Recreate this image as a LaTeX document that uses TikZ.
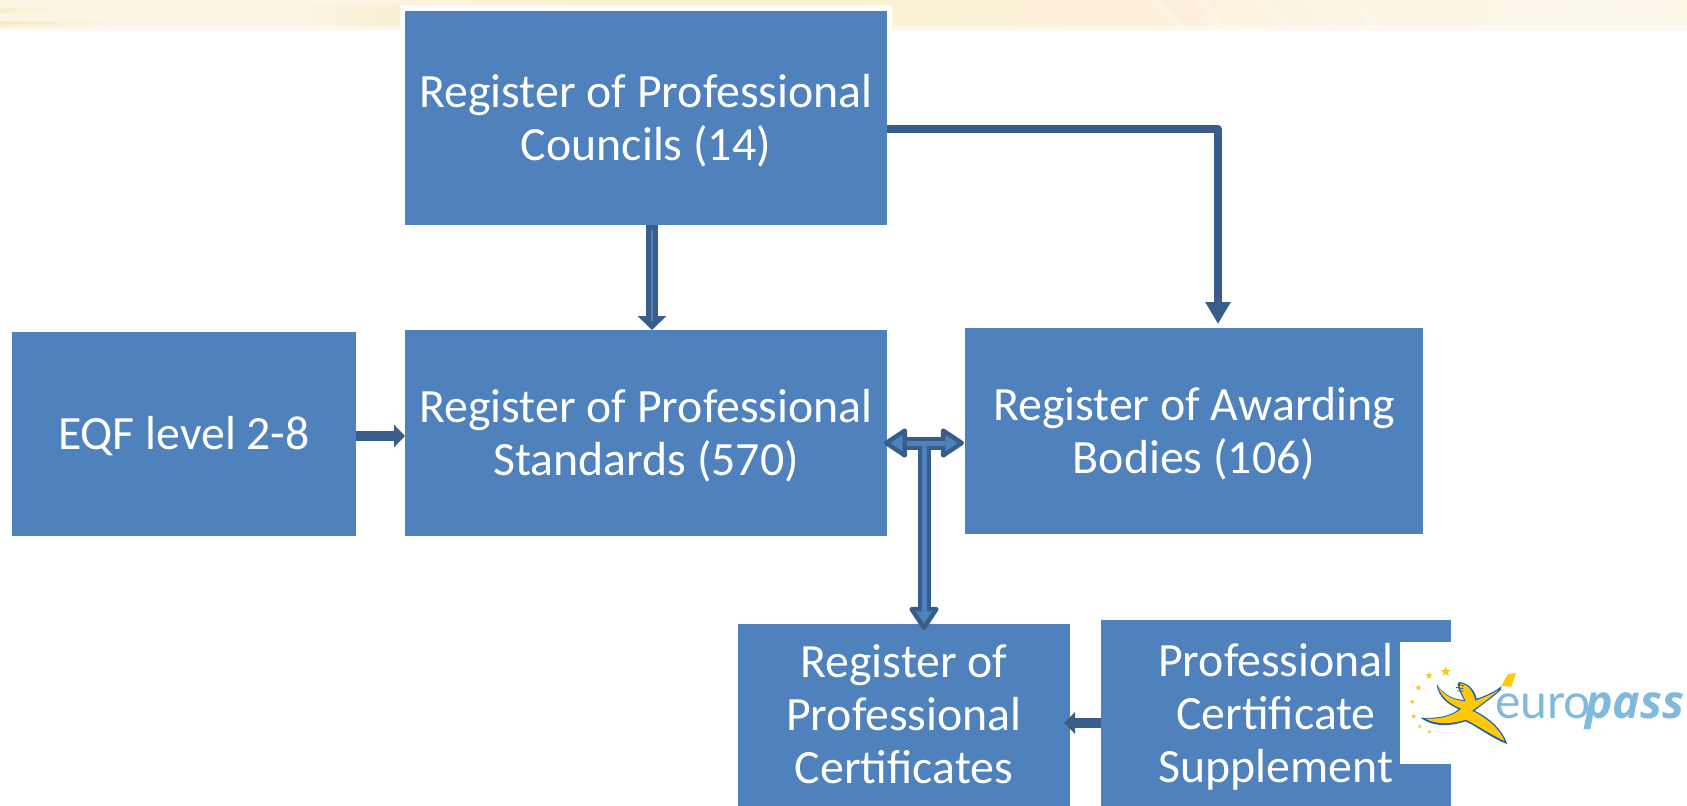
\documentclass[tikz,border=0pt]{standalone}
\usepackage{fontspec}
\setmainfont{Carlito}
\newfontfamily\lightfont{Lato}
\newfontfamily\passfont{Open Sans}
\usetikzlibrary{arrows.meta,shapes.geometric}
\newcommand\topgap[1]{\rule{0pt}{#1pt}}
\definecolor{boxblue}{HTML}{4F81BD}
\definecolor{linkblue}{HTML}{385D8A}
\definecolor{logoblue}{HTML}{7FB9DE}
\definecolor{logoyellow}{HTML}{FFC80A}
\definecolor{logoedge}{HTML}{1F5FA8}
\definecolor{bandA}{HTML}{FAF0C6}
\definecolor{bandB}{HTML}{FCF3E6}
\definecolor{bandC}{HTML}{FBF5E6}
\definecolor{bandD}{HTML}{FBF1D2}
\definecolor{bandE}{HTML}{FCF0DC}
\definecolor{bandF}{HTML}{FBF6EA}
\definecolor{bandG}{HTML}{FBF2DC}
\definecolor{streakA}{HTML}{F7ECB4}
\definecolor{streakB}{HTML}{F9EBCB}
\definecolor{fadeA}{HTML}{FCF6E8}
\pgfdeclarehorizontalshading{topband}{100bp}{
 color(0bp)=(bandA); color(3bp)=(bandA); color(4bp)=(bandB); color(12bp)=(bandB);
 color(20bp)=(bandC); color(34bp)=(bandC); color(42bp)=(bandD); color(50bp)=(bandD);
 color(60bp)=(bandE); color(66bp)=(bandC); color(72bp)=(bandF); color(78bp)=(bandC);
 color(86bp)=(bandE); color(95bp)=(bandG); color(100bp)=(bandA)}
\tikzset{
 x=1pt,y=-1pt,
 regbox/.style={rectangle,fill=boxblue,text=white,inner sep=0pt,outer sep=0pt,align=center,
   font=\fontsize{47.8}{53}\selectfont},
 dkshaft/.style={draw=linkblue,line cap=butt},
 ltcore/.style={draw=boxblue,line width=5pt,line cap=butt},
 star5/.style={star,star points=5,star point ratio=2.4,fill=logoyellow,draw=none,inner sep=0pt,outer sep=0pt},
}
\begin{document}
\begin{tikzpicture}
\useasboundingbox (0,0) rectangle (1687,806);
% top band
\shade[shading=topband] (0,0) rectangle (1687,28);
\shade[left color=streakA,right color=bandB,opacity=.5] (0,8) rectangle (60,12);
\shade[left color=streakA,right color=bandB,opacity=.8] (0,21) rectangle (110,27);
\shade[left color=bandC,right color=streakB,opacity=.6] (290,5) rectangle (400,26);
\foreach \xa/\xb in {1150/1175,1195/1215,1255/1285,1300/1330,1345/1370}
  \fill[white,opacity=.22] (\xa,0) -- (\xa+12,0) -- (\xb+12,28) -- (\xb,28) -- cycle;
\foreach \i/\o in {24/.12,25/.25,26/.38,27/.5}
  \fill[white,opacity=\o] (0,\i) rectangle (1687,\i+1);
\foreach \i/\o in {28/.6,29/.45,30/.3,31/.15}
  \fill[fadeA,opacity=\o] (0,\i) rectangle (1687,\i+1);
% halo of the top box
\fill[white,rounded corners=2pt] (400,5) rectangle (892,120);
% boxes
\node[regbox,minimum width=482pt,minimum height=214pt] (councils) at (646,118) {\topgap{39}Register of Professional\\Councils (14)};
\node[regbox,minimum width=482pt,minimum height=206pt] (standards) at (646,433) {\topgap{39}Register of Professional\\Standards (570)};
\node[regbox,minimum width=344pt,minimum height=204pt] (eqf) at (184,434) {\topgap{37}EQF level 2-8};
\node[regbox,minimum width=458pt,minimum height=206pt] (bodies) at (1194,431) {\topgap{39}Register of Awarding\\Bodies (106)};
\node[regbox,minimum width=332pt,minimum height=182pt] (certs) at (904,715) {Register of\\Professional\\Certificates\rule[-2pt]{0pt}{2pt}};
\node[regbox,minimum width=350pt,minimum height=186pt] (supp) at (1276,713) {\topgap{41}Professional\\Certificate\\Supplement};
% connector rows and columns
\coordinate (eqfrow) at (0,436);
\coordinate (dncol) at (652,0);
\coordinate (elbrow) at (0,129);
\coordinate (elbcol) at (1218,0);
\coordinate (hrow) at (0,443);
\coordinate (tcol) at (924,0);
\coordinate (supprow) at (0,723);
% EQF -> standards
\draw[dkshaft,line width=10pt,-{Triangle[length=11pt,width=22pt,color=linkblue]}] (eqf.east |- eqfrow) -- (standards.west |- eqfrow);
% councils -> standards
\draw[dkshaft,line width=12pt,-{Triangle[length=14pt,width=28pt,color=linkblue]}] (councils.south -| dncol) -- (standards.north -| dncol);
\draw[draw=boxblue,line width=2.6pt,shorten <=5pt,shorten >=9pt] (councils.south -| dncol) -- (standards.north -| dncol);
% councils -> bodies
\draw[dkshaft,line width=8pt,line join=round,shorten >=4pt,-{Triangle[length=22pt,width=24pt,color=linkblue]}] (councils.east |- elbrow) -- (elbrow -| elbcol) -- (bodies.north -| elbcol);
% supplement -> certificates
\draw[dkshaft,line width=10pt,shorten >=-6pt,-{Triangle[length=11pt,width=21pt,color=linkblue]}] (supp.west |- supprow) -- (certs.east |- supprow);
% standards <-> bodies and down to certificates
\draw[dkshaft,line width=13pt,shorten <=-3pt,shorten >=1pt,{Triangle[length=25pt,width=32pt,round,line width=4.5pt,fill=boxblue,color=linkblue]}-{Triangle[length=25pt,width=32pt,round,line width=4.5pt,fill=boxblue,color=linkblue]}] (standards.east |- hrow) -- (bodies.west |- hrow);
\draw[dkshaft,line width=13pt,shorten >=-6pt,-{Triangle[length=25pt,width=32pt,round,line width=4.5pt,fill=boxblue,color=linkblue]}] (hrow -| tcol) -- (certs.north -| tcol);
\draw[ltcore,shorten <=20pt,shorten >=20pt] (standards.east |- hrow) -- (bodies.west |- hrow);
\draw[ltcore,shorten >=12pt] (hrow -| tcol) -- (certs.north -| tcol);
% logo
\node[fill=white,inner sep=0pt,outer sep=0pt,minimum width=51pt,minimum height=122pt] (logopatch) at (1425.5,703) {};
\begin{scope}[shift={(1400,650)},x=0.3333pt,y=-0.3333pt]
 \fill[logoedge] (110,103) .. controls (132,135) and (160,148) .. (192,150)
   .. controls (180,125) and (168,108) .. (176,96) .. controls (205,98) and (224,120) .. (230,146)
   .. controls (255,138) and (285,125) .. (305,108) -- (302,120)
   .. controls (275,145) and (245,165) .. (224,182) .. controls (270,205) and (308,240) .. (322,282)
   .. controls (280,268) and (235,232) .. (197,214) .. controls (160,226) and (105,236) .. (62,203)
   .. controls (105,206) and (150,200) .. (176,178) .. controls (150,165) and (115,145) .. (110,103) -- cycle;
 \fill[logoyellow] (115,111) .. controls (135,140) and (165,152) .. (198,154)
   .. controls (186,130) and (175,112) .. (180,100) .. controls (205,103) and (220,125) .. (226,152)
   .. controls (250,144) and (280,130) .. (298,119)
   .. controls (272,142) and (240,165) .. (216,182) .. controls (262,205) and (300,238) .. (314,273)
   .. controls (275,255) and (232,226) .. (198,209) .. controls (160,221) and (112,226) .. (76,206)
   .. controls (115,208) and (158,200) .. (184,176) .. controls (155,165) and (123,142) .. (115,111) -- cycle;
 \fill[logoyellow] (305,107) -- (322,74) -- (348,68) -- (334,110) -- cycle;
 \draw[logoedge,line width=.8pt] (172,102) -- (192,108) (168,112) -- (190,116) (172,122) -- (190,124);
\end{scope}
\foreach \n/\x/\y/\s in {a/1445.7/671.7/10.5,b/1429/675.7/7.5,c/1418.3/687.7/6.5,d/1412.3/701.7/5,e/1413.7/716.3/5.5,f/1419.7/726.3/4.3,g/1429.3/731.7/4.3}
  \node[star5,minimum size=\s pt] (st\n) at (\x,\y) {};
\node[anchor=base west,text=logoblue,inner sep=0pt,font=\lightfont\fontsize{48}{48}\selectfont] (logoeuro) at (1495,718) {euro};
\node[anchor=base west,text=logoblue,inner sep=0pt,font=\passfont\bfseries\itshape\fontsize{46.5}{46.5}\selectfont] (logopass) at (1585,718) {pass};
\end{tikzpicture}
\end{document}
